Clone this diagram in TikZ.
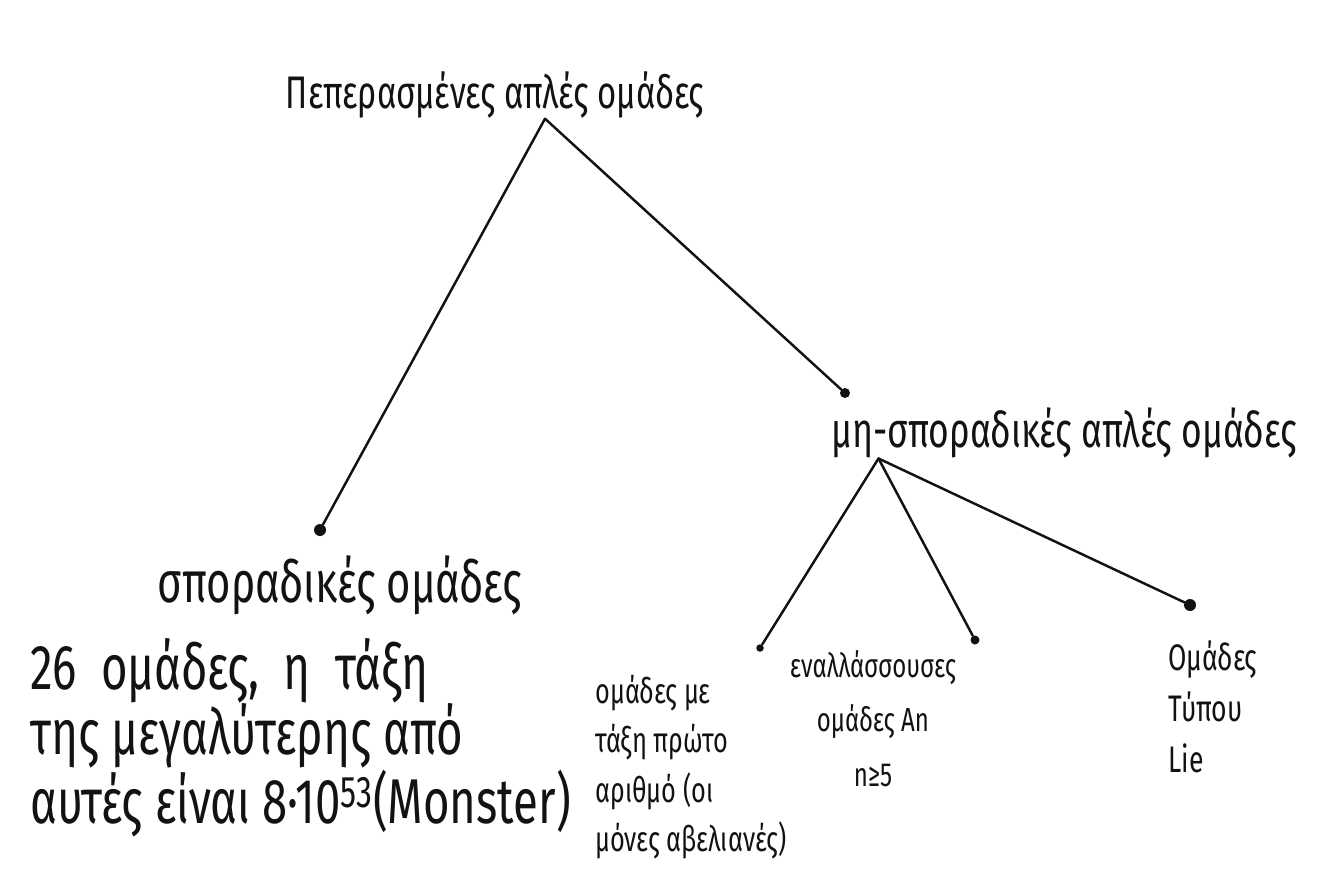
\documentclass[tikz,border=0pt]{standalone}
\usepackage{fontspec}
\setmainfont{Fira Sans}
\newfontfamily\handfont[FakeStretch=0.72]{Fira Sans}
\usetikzlibrary{positioning,calc}
\definecolor{sketchInk}{RGB}{18,18,18}
\definecolor{sketchPaper}{RGB}{255,255,255}
\tikzset{
  grouplabel/.style={text=sketchInk,inner sep=0pt,font=\handfont},
  branchline/.style={draw=sketchInk,line width=1.4pt,line cap=round},
  leafdot/.style={circle,fill=sketchInk,inner sep=0pt,minimum size=#1},
  leafdot/.default=0.2cm
}
\newcommand{\handsize}[2]{\fontsize{#1}{#2}\selectfont}

\begin{document}
\begin{tikzpicture}
    \fill[sketchPaper] (0,0) rectangle (26.64cm,17.42cm);
    \node[grouplabel,font=\handfont\handsize{26}{30}] (root) at (9.9cm,15.52cm)
      {Πεπερασμένες απλές ομάδες};
    \coordinate (rootfork) at ([xshift=1cm]root.south);
    \node[leafdot=0.24cm] (spordot) at (6.4cm,6.82cm) {};
    \node[leafdot=0.2cm] (nonspordot) at (16.9cm,9.56cm) {};
    \draw[branchline] (rootfork) -- (spordot);
    \draw[branchline] (rootfork) -- (nonspordot);

    \node[grouplabel,font=\handfont\handsize{28}{32}] (nonspor) at (21.28cm,8.76cm)
      {μη-σποραδικές απλές ομάδες};
    \coordinate (nonsporfork) at ([xshift=0.95cm]nonspor.south west);
    \node[leafdot=0.15cm] (primedot) at (15.2cm,4.46cm) {};
    \node[leafdot=0.18cm] (altdot) at (19.5cm,4.62cm) {};
    \node[leafdot=0.24cm] (liedot) at (23.8cm,5.32cm) {};
    \foreach \leaf in {primedot,altdot,liedot}
      {\draw[branchline] (nonsporfork) -- (\leaf);}

    \node[grouplabel,font=\handfont\handsize{33}{36}] (spor) at (6.8cm,5.72cm)
      {σποραδικές ομάδες};
    \node[grouplabel,font=\handfont\handsize{36}{37},align=left,anchor=north west]
      (spordetail) at (0.6cm,4.66cm)
      {26 \ ομάδες, \ η \ τάξη\\της μεγαλύτερης από\\αυτές είναι 8·10\textsuperscript{53}(Monster)};

    \node[grouplabel,font=\handfont\handsize{20}{28},align=left,anchor=north west]
      (prime) at (11.9cm,3.92cm)
      {ομάδες με\\τάξη πρώτο\\αριθμό (οι\\μόνες αβελιανές)};
    \node[grouplabel,font=\handfont\handsize{19}{31},align=center,anchor=north]
      (alt) at (17.46cm,4.42cm)
      {εναλλάσσουσες\\ομάδες An\\n≥5};
    \node[grouplabel,font=\handfont\handsize{21}{29},align=left,anchor=north west]
      (lie) at (23.36cm,4.62cm)
      {Ομάδες\\Τύπου\\Lie};
  \end{tikzpicture}
\end{document}
